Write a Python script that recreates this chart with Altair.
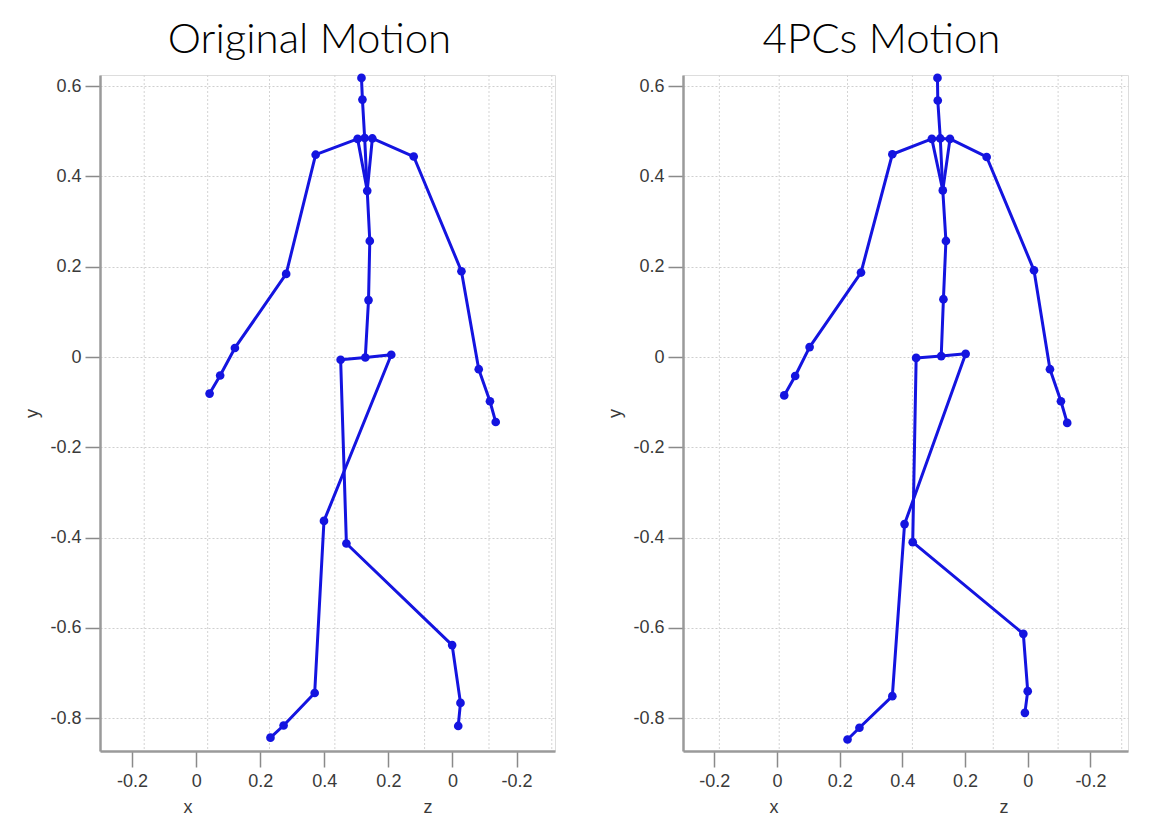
import altair as alt
import pandas as pd

# ---------------- data ----------------
joint_names = ["hip_c", "spine1", "spine2", "spine3", "neck", "head", "head_top",
               "l_clav", "l_shoulder", "l_elbow", "l_wrist", "l_hand", "l_tip",
               "r_clav", "r_shoulder", "r_elbow", "r_wrist", "r_hand", "r_tip",
               "l_hip", "knee_a", "ankle_a", "foot_a", "toe_a",
               "r_hip", "knee_b", "ankle_b", "foot_b", "toe_b"]

# Original motion (horizontal projected coordinate, y)
orig_h = [0.528, 0.538, 0.542, 0.534, 0.526, 0.519, 0.516,
          0.504, 0.373, 0.281, 0.121, 0.075, 0.042,
          0.550, 0.679, 0.828, 0.882, 0.917, 0.935,
          0.451, 0.469, 0.799, 0.825, 0.818,
          0.609, 0.399, 0.370, 0.273, 0.232]
orig_y = [-0.001, 0.126, 0.257, 0.368, 0.485, 0.570, 0.618,
          0.483, 0.448, 0.184, 0.020, -0.041, -0.081,
          0.484, 0.444, 0.190, -0.027, -0.098, -0.144,
          -0.006, -0.413, -0.638, -0.766, -0.817,
          0.005, -0.363, -0.744, -0.816, -0.843]

# 4PCs motion
pcs_h = [0.524, 0.531, 0.539, 0.529, 0.521, 0.513, 0.512,
         0.494, 0.368, 0.268, 0.104, 0.058, 0.023,
         0.552, 0.669, 0.820, 0.871, 0.906, 0.926,
         0.444, 0.433, 0.786, 0.800, 0.791,
         0.602, 0.407, 0.368, 0.263, 0.225]
pcs_y = [0.002, 0.128, 0.257, 0.369, 0.484, 0.568, 0.618,
         0.483, 0.449, 0.187, 0.022, -0.042, -0.085,
         0.483, 0.443, 0.192, -0.027, -0.098, -0.146,
         -0.002, -0.410, -0.613, -0.740, -0.788,
         0.007, -0.370, -0.751, -0.821, -0.847]

bones = [("hip_c", "spine1"), ("spine1", "spine2"), ("spine2", "spine3"),
         ("spine3", "neck"), ("neck", "head"), ("head", "head_top"),
         ("spine3", "l_clav"), ("l_clav", "neck"), ("l_clav", "l_shoulder"),
         ("l_shoulder", "l_elbow"), ("l_elbow", "l_wrist"), ("l_wrist", "l_hand"),
         ("l_hand", "l_tip"),
         ("spine3", "r_clav"), ("r_clav", "neck"), ("r_clav", "r_shoulder"),
         ("r_shoulder", "r_elbow"), ("r_elbow", "r_wrist"), ("r_wrist", "r_hand"),
         ("r_hand", "r_tip"),
         ("hip_c", "l_hip"), ("l_hip", "knee_a"), ("knee_a", "ankle_a"),
         ("ankle_a", "foot_a"), ("foot_a", "toe_a"),
         ("hip_c", "r_hip"), ("r_hip", "knee_b"), ("knee_b", "ankle_b"),
         ("ankle_b", "foot_b"), ("foot_b", "toe_b")]

x_tick_values = [-0.2, 0.0, 0.2, 0.4, 0.6, 0.8, 1.0]
x_tick_labels = ["-0.2", "0", "0.2", "0.4", "0.2", "0", "-0.2"]
y_tick_values = [0.6, 0.4, 0.2, 0.0, -0.2, -0.4, -0.6, -0.8]
y_tick_labels = ["0.6", "0.4", "0.2", "0", "-0.2", "-0.4", "-0.6", "-0.8"]

# vertical (3-D) grid lines, in the projected horizontal coordinate
orig_grid_h = [-0.162, 0.036, 0.229, 0.433, 0.713, 0.914, 1.11]
pcs_grid_h = [-0.184, 0.007, 0.225, 0.432, 0.690, 0.897, 1.10]

titles = ["Original Motion", "4PCs Motion"]

# ---------------- styling ----------------
BLUE = "#1414e0"
H_DOMAIN = [-0.30, 1.12]
Y_DOMAIN = [-0.8725, 0.6245]
AX_FONT = "Liberation Sans"
LBL = 18
PLOT_H = 676

x_label_expr = "[" + ",".join("'%s'" % s for s in x_tick_labels) + "][round((datum.value + 0.2) * 5)]"
y_label_expr = "[" + ",".join("'%s'" % s for s in y_tick_labels) + "][round((0.6 - datum.value) * 5)]"


def panel(title, hs, ys, grid_h, width, x_px, z_px, title_dx):
    idx = {n: i for i, n in enumerate(joint_names)}
    pts = pd.DataFrame({"joint": joint_names, "h": hs, "y": ys})
    segs = pd.DataFrame({
        "h": [hs[idx[a]] for a, b in bones],
        "y": [ys[idx[a]] for a, b in bones],
        "h2": [hs[idx[b]] for a, b in bones],
        "y2": [ys[idx[b]] for a, b in bones],
    })
    grid = pd.DataFrame({"g": grid_h})

    xscale = alt.Scale(domain=H_DOMAIN, nice=False, zero=False)
    yscale = alt.Scale(domain=Y_DOMAIN, nice=False, zero=False)

    xaxis = alt.Axis(values=x_tick_values, labelExpr=x_label_expr, title=None, grid=False,
                     domainColor="#9a9a9a", domainWidth=2.5, tickColor="#8a8a8a", tickWidth=1.5,
                     tickSize=16, labelPadding=5, labelFontSize=LBL, labelColor="#3a3a3a",
                     labelFont=AX_FONT)
    yaxis = alt.Axis(values=y_tick_values, labelExpr=y_label_expr, title="y", grid=True,
                     gridColor="#cfcfcf", gridDash=[2, 2], gridWidth=1,
                     domainColor="#9a9a9a", domainWidth=2.5, tickColor="#8a8a8a", tickWidth=1.5,
                     tickSize=15, labelPadding=4, labelFontSize=LBL, labelColor="#3a3a3a",
                     labelFont=AX_FONT, titleFont=AX_FONT, titleFontSize=LBL,
                     titleFontWeight="normal", titleColor="#3a3a3a", titlePadding=8)

    gridlines = alt.Chart(grid).mark_rule(color="#d4d4d4", strokeDash=[2, 2], strokeWidth=1).encode(
        x=alt.X("g:Q", scale=xscale, axis=xaxis),
    )
    lines = alt.Chart(segs).mark_rule(color=BLUE, strokeWidth=3, strokeCap="round").encode(
        x=alt.X("h:Q", scale=xscale, axis=xaxis),
        y=alt.Y("y:Q", scale=yscale, axis=yaxis),
        x2="h2:Q", y2="y2:Q",
    )
    dots = alt.Chart(pts).mark_circle(color=BLUE, size=75, opacity=1).encode(
        x=alt.X("h:Q", scale=xscale, axis=xaxis),
        y=alt.Y("y:Q", scale=yscale, axis=yaxis),
    )
    one = pd.DataFrame({"a": [0]})
    xt = alt.Chart(one).mark_text(font=AX_FONT, fontSize=LBL, color="#3a3a3a", baseline="middle").encode(
        x=alt.value(x_px), y=alt.value(PLOT_H + 57), text=alt.value("x"))
    zt = alt.Chart(one).mark_text(font=AX_FONT, fontSize=LBL, color="#3a3a3a", baseline="middle").encode(
        x=alt.value(z_px), y=alt.value(PLOT_H + 57), text=alt.value("z"))

    return alt.layer(gridlines, lines, dots, xt, zt).properties(
        width=width, height=PLOT_H,
        title=alt.TitleParams(title, font="Lato", fontSize=42, fontWeight=300,
                              color="#000000", anchor="middle", offset=12, dx=title_dx),
    )


left = panel(titles[0], orig_h, orig_y, orig_grid_h, 455, 88, 328, -18)
right = panel(titles[1], pcs_h, pcs_y, pcs_grid_h, 445, 91, 321, -24)

chart = alt.hconcat(left, right, spacing=50).configure_view(stroke=None).configure(
    background="white"
).properties(padding={"left": 15, "top": 10, "right": 5, "bottom": 4})

chart.save("out.html", embed_options={"renderer": "svg", "actions": False})
